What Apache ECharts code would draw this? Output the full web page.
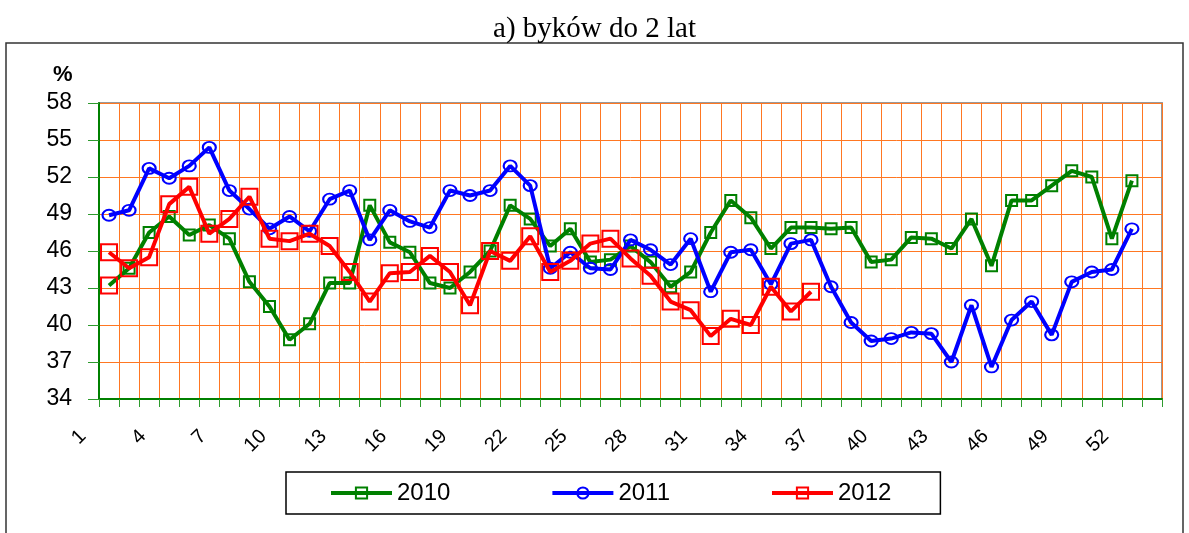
<!DOCTYPE html>
<html>
<head>
<meta charset="utf-8">
<script src="https://cdn.jsdelivr.net/npm/echarts@6/dist/echarts.min.js"></script>
<style>
html,body{margin:0;padding:0;background:#fff;}
#chart{width:1189px;height:533px;}
</style>
</head>
<body>
<div id="chart"></div>
<script>
const weeks = ['1','2','3','4','5','6','7','8','9','10','11','12','13','14','15','16','17','18','19','20',
  '21','22','23','24','25','26','27','28','29','30','31','32','33','34','35','36','37','38','39','40',
  '41','42','43','44','45','46','47','48','49','50','51','52','53'];

const yTicks = [34, 37, 40, 43, 46, 49, 52, 55, 58];

const values2010 = [43.2, 44.6, 47.5, 48.8, 47.3, 48.1, 47.0, 43.5, 41.5, 38.8,
  40.1, 43.4, 43.4, 49.7, 46.7, 45.9, 43.4, 43.0, 44.3, 46.0,
  49.7, 48.6, 46.4, 47.8, 45.1, 45.3, 46.4, 45.1, 43.1, 44.3,
  47.5, 50.1, 48.7, 46.2, 47.9, 47.9, 47.8, 47.9, 45.1, 45.3,
  47.1, 47.0, 46.2, 48.6, 44.8, 50.1, 50.1, 51.3, 52.5, 52.0,
  47.0, 51.7];

const values2011 = [48.9, 49.3, 52.7, 51.9, 52.9, 54.4, 50.9, 49.4, 47.8, 48.8,
  47.6, 50.2, 50.9, 46.9, 49.3, 48.4, 47.9, 50.9, 50.5, 50.9,
  52.9, 51.3, 44.6, 45.9, 44.6, 44.5, 46.9, 46.1, 44.9, 47.0,
  42.7, 45.9, 46.1, 43.3, 46.6, 46.9, 43.1, 40.2, 38.7, 38.9,
  39.4, 39.3, 37.0, 41.6, 36.6, 40.4, 41.9, 39.2, 43.5, 44.3,
  44.5, 47.8];

const values2012 = [45.9, 44.6, 45.5, 49.8, 51.2, 47.4, 48.6, 50.4, 47.0, 46.8,
  47.4, 46.4, 44.3, 41.9, 44.2, 44.3, 45.6, 44.3, 41.6, 46.0,
  45.2, 47.2, 44.3, 45.2, 46.6, 47.0, 45.4, 44.0, 41.9, 41.2,
  39.1, 40.5, 40.0, 43.1, 41.1, 42.7];

const seriesNames = ['2010', '2011', '2012'];

const GREEN = '#008000', BLUE = '#0000FF', RED = '#FF0000';
const FONT = 'Arial, "Liberation Sans", sans-serif';

const chart = echarts.init(document.getElementById('chart'), null, {renderer: 'canvas'});

const data2010 = values2010.map((v, i) => i === 0
  ? {value: v, symbolSize: 16, itemStyle: {borderColor: RED}}
  : v);

const option = {
  backgroundColor: '#fff',
  animation: false,
  title: {
    text: 'a) byków do 2 lat',
    left: 'center',
    top: 10,
    textStyle: {fontFamily: '"Liberation Serif", "Times New Roman", serif', fontSize: 29, fontWeight: 'normal', color: '#000'}
  },
  graphic: [
    {type: 'rect', shape: {x: 6, y: 43, width: 1177, height: 520}, style: {fill: 'none', stroke: '#333', lineWidth: 1.5}, silent: true, z: -1},
    {type: 'text', left: 53, top: 64, style: {text: '%', font: 'bold 22px Arial, "Liberation Sans", sans-serif', fill: '#000'}}
  ],
  legend: {
    data: seriesNames,
    left: 286,
    top: 472,
    orient: 'horizontal',
    padding: [9, 49, 9, 43],
    itemGap: 100,
    itemWidth: 61,
    itemHeight: 14,
    borderColor: '#000',
    borderWidth: 1.5,
    lineStyle: {width: 4},
    textStyle: {fontFamily: FONT, fontSize: 24, color: '#000', lineHeight: 24}
  },
  grid: {left: 99, right: 27, top: 103, bottom: 134, containLabel: false},
  xAxis: [{
    type: 'category',
    data: weeks,
    boundaryGap: true,
    axisLine: {show: true, lineStyle: {color: GREEN, width: 2}},
    axisTick: {show: true, interval: 0, length: 8, lineStyle: {color: '#2E9A2E', width: 1}},
    splitLine: {show: true, interval: 0, lineStyle: {color: '#FF7722', width: 1}},
    axisLabel: {
      interval: 2, rotate: 45, margin: 8, padding: [0, 37, 0, 0],
      fontFamily: FONT, fontSize: 20, color: '#000'
    },
    z: 5
  }, {
    type: 'category',
    data: weeks,
    position: 'top',
    boundaryGap: true,
    axisLine: {show: true, lineStyle: {color: '#999', width: 2}},
    axisTick: {show: false},
    axisLabel: {show: false},
    splitLine: {show: false}
  }],
  yAxis: [{
    type: 'value',
    min: 34,
    max: 58,
    interval: 3,
    axisLine: {show: true, lineStyle: {color: GREEN, width: 2}},
    axisTick: {show: true, length: 11, lineStyle: {color: '#2E9A2E', width: 1}},
    splitLine: {show: true, lineStyle: {color: '#FF7722', width: 1}},
    axisLabel: {
      margin: 27, fontFamily: FONT, fontSize: 23, color: '#000',
      formatter: v => (yTicks.indexOf(v) >= 0 ? String(v) : '')
    },
    z: 5
  }, {
    type: 'value',
    min: 34,
    max: 58,
    interval: 3,
    position: 'right',
    axisLine: {show: true, lineStyle: {color: '#999', width: 2}},
    axisTick: {show: false},
    axisLabel: {show: false},
    splitLine: {show: false}
  }],
  series: [
    {
      name: '2010', type: 'line', data: data2010,
      symbol: 'rect', symbolSize: 11, showAllSymbol: true,
      lineStyle: {color: GREEN, width: 4},
      itemStyle: {color: 'rgba(0,0,0,0)', borderColor: GREEN, borderWidth: 2},
      z: 10
    },
    {
      name: '2011', type: 'line', data: values2011,
      symbol: 'circle', symbolSize: [13, 11], showAllSymbol: true,
      lineStyle: {color: BLUE, width: 4},
      itemStyle: {color: 'rgba(0,0,0,0)', borderColor: BLUE, borderWidth: 2},
      z: 11
    },
    {
      name: '2012', type: 'line', data: values2012,
      symbol: 'rect', symbolSize: 16, showAllSymbol: true,
      lineStyle: {color: RED, width: 4},
      itemStyle: {color: 'rgba(0,0,0,0)', borderColor: RED, borderWidth: 2},
      z: 12
    }
  ]
};

chart.setOption(option);
</script>
</body>
</html>
